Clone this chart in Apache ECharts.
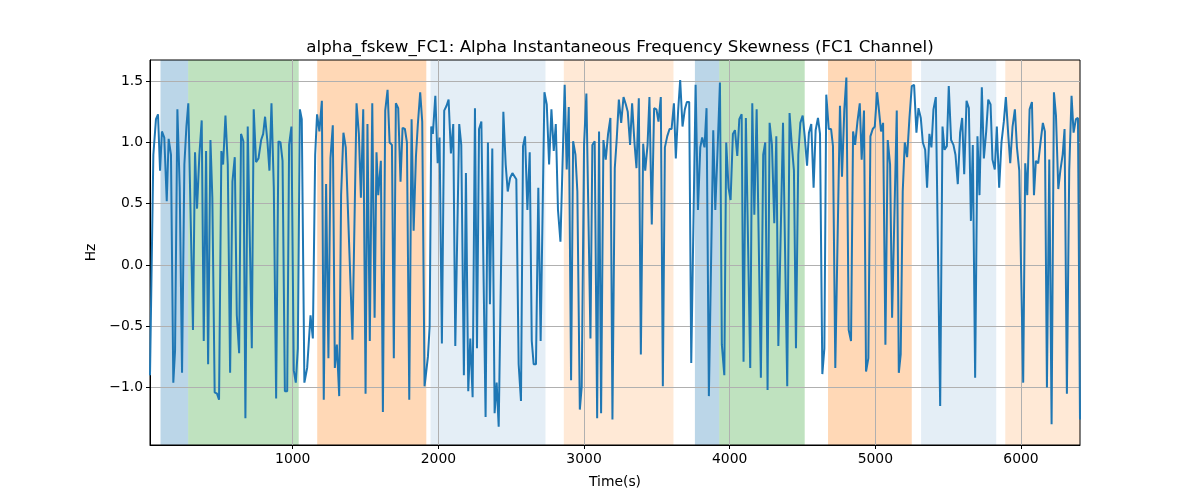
<!DOCTYPE html>
<html>
<head>
<meta charset="utf-8">
<script src="https://cdn.jsdelivr.net/npm/echarts@6/dist/echarts.min.js"></script>
<style>html,body{margin:0;padding:0;background:#fff}#chart{width:1200px;height:500px}</style>
</head>
<body>
<div id="chart"></div>
<script>
const titleText = 'alpha_fskew_FC1: Alpha Instantaneous Frequency Skewness (FC1 Channel)';
const xTicks = [1000, 2000, 3000, 4000, 5000, 6000];
const yTicks = [-1.0, -0.5, 0.0, 0.5, 1.0, 1.5];

// [time (s), value (Hz)] samples
const part1 = [[20,-0.9],[43,0.9],[61,1.19],[75,1.23],[89,0.77],[102,1.09],[118,1.04],[135,0.52],[148,1.03],[164,0.9],
[180,-0.96],[192,-0.7],[208,1.27],[224,0.63],[240,-0.88],[256,0.82],[270,1.13],[283,1.32],[315,-0.53],[329,0.92],
[343,0.46],[359,0.9],[375,1.18],[389,-0.62],[405,0.93],[419,-0.81],[435,1.02],[448,0.55],[464,-1.04],[480,-1.05],
[494,-1.1],[510,0.93],[522,0.82],[538,1.22],[554,0.82],[570,-0.88],[586,0.68],[602,0.88],[616,-0.41],[632,-0.72],
[645,1.07],[661,1.01],[675,-1.25],[691,1.13],[719,-0.68],[732,1.27],[748,0.84],[765,0.87],[783,1.02],[797,1.07],
[810,1.21],[826,1.01],[840,0.77],[854,1.32],[870,0.63],[886,-1.09],[902,1.01],[916,1.0],[930,0.85],[946,-1.03],
[962,-1.03],[975,0.98],[991,1.13],[1007,-0.86],[1021,-0.96],[1035,-0.68],[1049,1.27],[1062,1.19]];
const part2 = [[1080,-0.96],[1099,-0.84],[1122,-0.41],[1138,-0.6],[1154,0.9],[1167,1.23],[1183,1.09],[1200,1.34],[1213,-1.1],[1229,0.66],
[1245,-0.76],[1259,0.87],[1275,1.14],[1289,-0.84],[1303,-0.65],[1319,-1.07],[1332,0.57],[1348,1.08],[1364,0.96],[1410,-0.61],
[1438,1.32],[1454,1.07],[1468,0.55],[1484,1.27],[1500,-1.05],[1513,1.15],[1529,-0.62],[1546,1.32],[1562,-0.43],[1575,0.92],
[1587,0.57],[1605,0.85],[1619,-1.2],[1635,1.26],[1651,1.43],[1665,1.0],[1681,0.98],[1694,-0.76],[1708,1.32],[1724,1.28],
[1740,0.68],[1754,1.12],[1770,1.11],[1784,1.0],[1800,-1.1],[1816,1.19],[1830,0.28],[1846,0.89],[1859,1.15],[1875,1.41],
[1889,1.17],[1905,-0.99],[1928,-0.75],[1940,-0.5],[1951,1.13],[1962,1.07],[1979,1.38],[1995,0.83],[2008,1.04],[2024,-0.64],
[2040,1.26],[2056,1.3],[2070,1.35],[2086,0.91],[2102,1.15]];
const part3 = [[2116,-0.66],[2143,1.15],[2157,0.98],[2175,-0.9],[2189,0.75],[2205,-1.03],[2219,-0.6],[2235,-1.08],[2251,1.28],[2265,-0.68],
[2279,1.11],[2295,1.17],[2324,-1.24],[2340,1.0],[2354,-0.32],[2370,0.95],[2386,-1.21],[2400,-0.96],[2414,-1.32],[2446,1.25],
[2462,0.82],[2476,0.6],[2492,0.71],[2508,0.75],[2521,0.75],[2535,0.7],[2551,-0.81],[2567,-1.11],[2581,0.97],[2595,1.05],
[2611,0.45],[2627,0.92],[2641,-0.62],[2654,-0.81],[2670,-0.81],[2686,0.63],[2702,-0.62],[2728,1.41],[2744,1.31],[2760,0.82],
[2776,1.27],[2792,0.93],[2806,1.15],[2821,0.45],[2838,0.19],[2867,1.47],[2881,0.78],[2895,1.29],[2911,-0.94],[2925,1.01],
[2941,0.9],[2954,0.6],[2971,-1.18],[2984,-0.99],[3000,0.98],[3016,1.4],[3044,-0.6],[3057,0.98],[3073,1.01],[3090,-1.25],
[3103,1.09],[3117,-1.21],[3133,1.02]];
const part4 = [[3149,0.86],[3165,1.07],[3181,1.2],[3195,-1.26],[3211,0.79],[3225,1.04],[3239,1.35],[3255,1.16],[3271,1.37],[3287,1.31],
[3300,1.25],[3316,0.98],[3330,1.32],[3346,1.0],[3360,0.79],[3376,1.36],[3390,-0.73],[3406,0.99],[3420,0.77],[3436,0.98],
[3449,1.37],[3465,0.33],[3481,1.28],[3497,1.27],[3511,1.17],[3527,1.37],[3541,-0.99],[3555,0.96],[3571,1.05],[3587,1.11],
[3601,1.11],[3617,1.32],[3630,0.87],[3646,1.26],[3660,1.51],[3676,1.13],[3692,1.27],[3706,1.33],[3722,1.33],[3736,-0.8],
[3766,1.47],[3782,0.45],[3798,0.96],[3811,1.04],[3827,0.96],[3841,1.28],[3857,-1.07],[3887,1.1],[3901,0.45],[3917,0.95],
[3933,1.49],[3946,-0.65],[3963,-0.9],[3976,1.0],[3992,0.63],[4006,0.53],[4022,1.07],[4036,1.1],[4052,0.89],[4066,1.19],
[4082,1.23],[4095,-0.79],[4111,1.2],[4141,-0.84],[4155,1.32]];
const part5 = [[4169,0.41],[4185,1.27],[4214,-0.92],[4230,0.9],[4244,1.0],[4260,-1.02],[4274,1.16],[4290,0.98],[4306,0.34],[4320,1.05],
[4334,-0.66],[4366,1.16],[4395,-0.99],[4411,1.24],[4425,1.0],[4441,0.77],[4455,-0.68],[4471,0.9],[4485,1.16],[4501,1.22],
[4515,1.05],[4531,0.81],[4544,1.08],[4560,1.15],[4576,0.63],[4590,1.1],[4606,1.2],[4620,1.07],[4636,-0.89],[4650,-0.68],
[4663,1.39],[4680,1.11],[4696,1.11],[4709,0.97],[4725,-0.84],[4757,1.3],[4771,0.72],[4787,1.27],[4801,1.53],[4817,-0.53],
[4833,-0.62],[4847,1.09],[4861,0.98],[4877,1.17],[4893,1.32],[4906,0.86],[4922,1.26],[4936,-0.87],[4952,-0.76],[4966,1.05],
[4982,1.11],[4996,1.13],[5012,1.41],[5025,1.26],[5039,1.09],[5053,1.16],[5069,-0.65],[5085,1.02],[5101,0.82],[5115,-0.43],
[5147,1.26],[5161,-0.88],[5174,-0.73],[5188,0.6],[5202,1.0],[5218,0.88],[5234,1.2],[5250,1.46],[5266,1.47]];
const part6 = [[5282,1.08],[5296,1.28],[5312,1.2],[5326,1.0],[5342,0.94],[5355,0.63],[5371,1.07],[5385,0.96],[5399,1.27],[5415,1.37],
[5445,-1.15],[5461,1.13],[5475,0.94],[5491,0.97],[5504,1.46],[5520,1.02],[5536,0.98],[5550,0.9],[5566,0.66],[5582,1.08],
[5596,1.2],[5610,0.74],[5626,1.34],[5642,1.28],[5656,0.36],[5669,0.98],[5685,-0.92],[5701,1.05],[5715,0.57],[5731,1.45],
[5745,0.87],[5761,1.09],[5775,1.35],[5791,1.31],[5804,0.86],[5820,0.78],[5834,1.13],[5850,0.63],[5866,1.0],[5882,1.17],
[5896,1.37],[5912,1.07],[5926,0.83],[5942,1.13],[5958,1.27],[5972,0.96],[5988,0.77],[6015,-0.96],[6029,0.83],[6043,0.57],
[6059,1.27],[6075,1.33],[6089,0.57],[6102,0.85],[6118,0.83],[6134,1.0],[6150,1.16],[6164,1.09],[6178,-1.0],[6194,0.86],
[6210,-1.3],[6226,1.41],[6240,1.22],[6256,0.62],[6270,0.77],[6286,0.9],[6299,1.11],[6315,-1.05],[6331,0.77],[6347,1.38],
[6361,1.08],[6377,1.19],[6391,1.2],[6405,-1.26]];

// shaded segments: start (s), end (s), kind
const bandStart = [92, 282, 1168, 1946, 2861, 3761, 3928, 4675, 5314, 5892];
const bandEnd   = [282, 1041, 1917, 2735, 3614, 3928, 4515, 5250, 5830, 6405];
const bandKind  = ['blue','green','orange','lightblue','lightorange','blue','green','orange','lightblue','lightorange'];

const bandColors = {
  blue: 'rgba(31,119,180,0.3)',
  green: 'rgba(44,160,44,0.3)',
  orange: 'rgba(255,127,14,0.3)',
  lightblue: 'rgba(31,119,180,0.12)',
  lightorange: 'rgba(255,127,14,0.17)'
};

const samples = part1.concat(part2, part3, part4, part5, part6);
const xMin = samples[0][0];
const xMax = samples[samples.length - 1][0];

const areas = bandStart.map((s, i) => [
  { xAxis: s, itemStyle: { color: bandColors[bandKind[i]] } },
  { xAxis: bandEnd[i] }
]);

const FONT = 'DejaVu Sans';
const chart = echarts.init(document.getElementById('chart'), null, { renderer: 'canvas' });
chart.setOption({
  animation: false,
  backgroundColor: '#ffffff',
  textStyle: { fontFamily: FONT },
  title: {
    text: titleText,
    left: 615, top: 34, textAlign: 'center',
    textStyle: { fontFamily: FONT, fontSize: 16.7, fontWeight: 'normal', color: '#000' }
  },
  grid: { left: 150, right: 120, top: 60, bottom: 55, show: true, borderColor: '#000', borderWidth: 1, backgroundColor: 'transparent', containLabel: false, z: 0 },
  xAxis: {
    type: 'value', min: xMin, max: xMax, z: 1,
    name: 'Time(s)', nameLocation: 'middle', nameGap: 30,
    nameTextStyle: { fontFamily: FONT, fontSize: 13.9, color: '#000' },
    axisLine: { show: true, onZero: false, lineStyle: { color: '#000', width: 1 } },
    axisTick: { show: true, inside: false, length: 4, lineStyle: { color: '#000' }, customValues: xTicks },
    axisLabel: { fontFamily: FONT, fontSize: 13.9, color: '#000', margin: 7, customValues: xTicks, formatter: v => String(v) },
    splitLine: { show: true, lineStyle: { color: '#b0b0b0', width: 1 } }
  },
  yAxis: {
    type: 'value', min: -1.469, max: 1.673, z: 1,
    name: 'Hz', nameLocation: 'middle', nameGap: 47, nameRotate: 90,
    nameTextStyle: { fontFamily: FONT, fontSize: 13.9, color: '#000' },
    axisLine: { show: true, onZero: false, lineStyle: { color: '#000', width: 1 } },
    axisTick: { show: true, inside: false, length: 4, lineStyle: { color: '#000' }, customValues: yTicks },
    axisLabel: { fontFamily: FONT, fontSize: 13.9, color: '#000', margin: 7, customValues: yTicks,
      formatter: v => (v < 0 ? '\u2212' : '') + Math.abs(v).toFixed(1) },
    splitLine: { show: true, lineStyle: { color: '#b0b0b0', width: 1 } }
  },
  series: [{
    type: 'line',
    name: 'bands',
    data: [],
    silent: true,
    z: -1,
    markArea: { silent: true, z: -1, data: areas }
  }, {
    type: 'line',
    name: 'alpha_fskew_FC1',
    data: samples,
    showSymbol: false,
    symbol: 'none',
    lineStyle: { color: '#1f77b4', width: 2 },
    itemStyle: { color: '#1f77b4' },
    z: 3
  }]
});
</script>
</body>
</html>
